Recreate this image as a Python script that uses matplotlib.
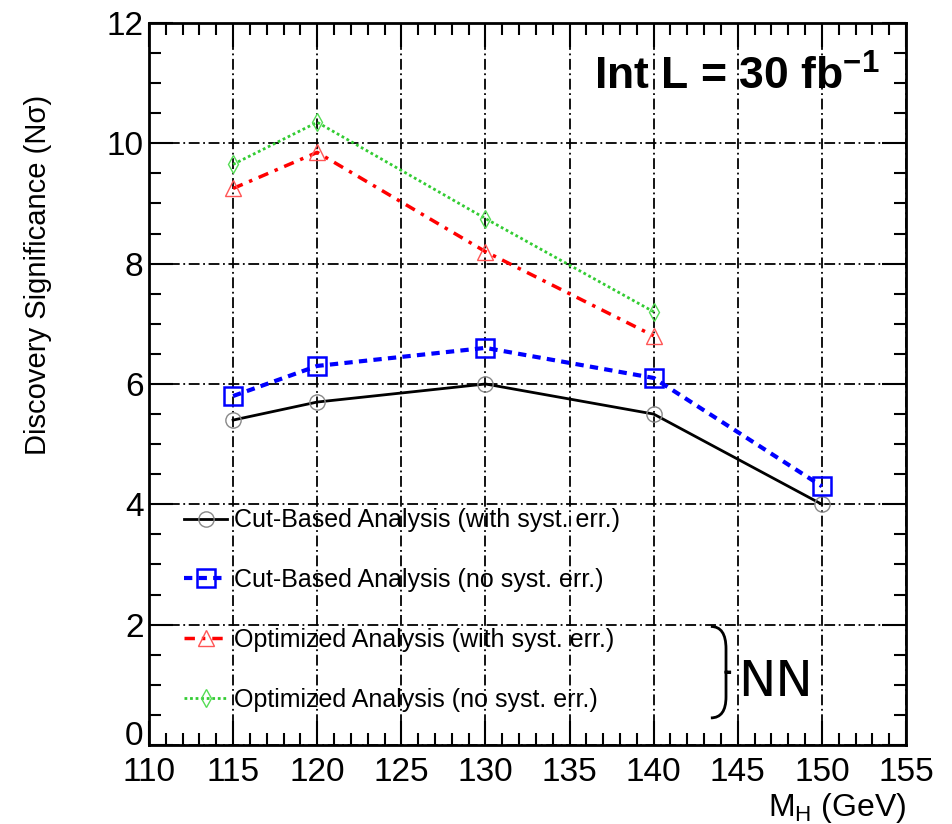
import matplotlib.pyplot as plt
from matplotlib.path import Path
from matplotlib.patches import PathPatch
from matplotlib.ticker import MultipleLocator, FuncFormatter

# Data
mass_cut = [115, 120, 130, 140, 150]
cut_with_syst = [5.4, 5.7, 6.0, 5.5, 4.0]
cut_no_syst = [5.8, 6.3, 6.6, 6.1, 4.3]

mass_opt = [115, 120, 130, 140]
opt_with_syst = [9.25, 9.85, 8.2, 6.8]
opt_no_syst = [9.65, 10.35, 8.75, 7.2]

labels = ["Cut-Based Analysis (with syst. err.)",
          "Cut-Based Analysis (no syst. err.)",
          "Optimized Analysis (with syst. err.)",
          "Optimized Analysis (no syst. err.)"]

plt.rcParams['font.family'] = ['Liberation Sans', 'DejaVu Sans']

fig = plt.figure(figsize=(9.52, 8.24), dpi=100)
ax = fig.add_axes([0.1565, 0.0959, 0.7952, 0.8762])

ax.plot(mass_cut, cut_with_syst, color='black', lw=2, ls='-',
        marker='o', ms=11, mfc='none', mec='#888888', mew=1, label=labels[0])
ax.plot(mass_cut, cut_no_syst, color='blue', lw=3, ls=(0, (2, 1.5)),
        marker='s', ms=13, mfc='none', mec='blue', mew=1.8, label=labels[1])
ax.plot(mass_opt, opt_with_syst, color='red', lw=2.5, ls=(0, (3, 2, 1, 2)),
        marker='^', ms=12, mfc='none', mec='#ff5555', mew=1, label=labels[2])
ax.plot(mass_opt, opt_no_syst, color='#33cc33', lw=2, ls=(0, (1, 1)),
        marker='d', ms=9, mfc='none', mec='#55dd55', mew=1, label=labels[3])

ax.set_xlim(110, 155)
ax.set_ylim(0, 12)
ax.xaxis.set_major_locator(MultipleLocator(5))
ax.xaxis.set_minor_locator(MultipleLocator(1))
ax.yaxis.set_major_locator(MultipleLocator(2))
ax.yaxis.set_minor_locator(MultipleLocator(0.5))
# the "0" is drawn separately, a bit higher, like in the original
ax.yaxis.set_major_formatter(FuncFormatter(lambda v, p: "" if v == 0 else f"{v:g}"))
ax.tick_params(which='both', direction='in', top=True, right=True,
               labelsize=24, width=1.5, pad=4)
ax.tick_params(which='major', length=17)
ax.tick_params(which='minor', length=8.5)
ax.tick_params(axis='x', pad=9)
for s in ax.spines.values():
    s.set_linewidth(2)

ax.annotate("0", xy=(0, 0), xycoords=('axes fraction', 'data'),
            xytext=(-4, 6), textcoords='offset points',
            ha='right', va='center', fontsize=24)

ax.grid(True, which='major', color='black', lw=1.3, ls=(0, (6, 2, 1, 2)))

ax.set_ylabel("Discovery Significance (N\u03c3)", fontsize=21)
ax.yaxis.set_label_coords(-0.128, 0.651)
ax.set_xlabel("M$_{\\mathregular{H}}$ (GeV)", fontsize=23)
ax.xaxis.set_label_coords(1.0, -0.064)
ax.xaxis.label.set_horizontalalignment('right')

ax.text(0.965, 0.925, "Int L = 30 fb$^{\\mathregular{-1}}$", transform=ax.transAxes,
        ha='right', va='center', fontsize=32, fontweight='bold')

leg = ax.legend(loc='lower left', bbox_to_anchor=(0.017, 0.015), frameon=False,
                fontsize=18, labelspacing=1.43, handlelength=1.7, handletextpad=0.3)

# brace and NN label
brace = Path([(143.4, 1.97), (144.3, 1.97), (144.3, 1.6), (144.3, 1.21),
              (144.3, 1.21), (144.6, 1.21), (144.6, 1.21),
              (144.3, 1.21), (144.3, 0.8), (144.3, 0.45), (143.4, 0.45)],
             [Path.MOVETO, Path.CURVE3, Path.CURVE3, Path.LINETO,
              Path.CURVE3, Path.CURVE3, Path.MOVETO,
              Path.LINETO, Path.LINETO, Path.CURVE3, Path.CURVE3])
ax.add_patch(PathPatch(brace, fill=False, lw=2, color='black', clip_on=False))
ax.text(145.0, 1.05, "NN", fontsize=36, family='DejaVu Sans', ha='left', va='center')

fig.savefig('out.png', dpi=100)
